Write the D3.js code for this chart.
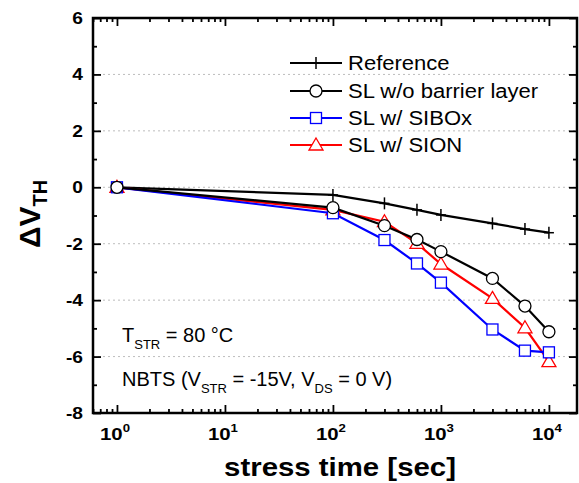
<!DOCTYPE html>
<html><head><meta charset="utf-8">
<script src="https://cdn.jsdelivr.net/npm/d3@7"></script>
<style>body{margin:0;background:#fff;} svg{display:block;font-family:Arial,"Liberation Sans",sans-serif;}</style>
</head><body>
<svg id="c" width="579" height="483"></svg>
<script>
const times = [1, 100, 300, 600, 1000, 3000, 6000, 10000];
const refVals = [0, -0.27, -0.57, -0.80, -0.98, -1.28, -1.48, -1.61];
const woVals = [0, -0.72, -1.36, -1.85, -2.28, -3.23, -4.21, -5.12];
const siboxVals = [0, -0.92, -1.87, -2.70, -3.38, -5.04, -5.79, -5.85];
const sionVals = [0, -0.80, -1.22, -1.99, -2.72, -3.94, -4.98, -6.18];
const seriesNames = ["Reference", "SL w/o barrier layer", "SL w/ SIBOx", "SL w/ SION"];
const seriesColors = ["#000000", "#000000", "#0000ff", "#ff0000"];
const seriesMarkers = ["plus", "circle", "square", "triangle"];
const yTicks = [-8, -6, -4, -2, 0, 2, 4, 6];
const xDecades = [0, 1, 2, 3, 4];

const svg = d3.select("#c");
const L = 93, R = 577, T = 18, B = 413;
const SX = 1.13; // horizontal stretch of the original figure's text
const x = d3.scaleLog().domain([0.6, 18200]).range([L, R]);
const y = d3.scaleLinear().domain([-8, 6]).range([B, T]);

// grid
svg.append("g").selectAll("line").data(yTicks.filter(v => v > -8 && v < 6)).join("line")
  .attr("x1", L).attr("x2", R).attr("y1", d => y(d)).attr("y2", d => y(d))
  .attr("stroke", "#bdbdbd").attr("stroke-width", 1).attr("stroke-dasharray", "2,3");

// axes with inward ticks
const yMinor = d3.range(-7, 6, 2);
const xMinor = [];
for (let e = -1; e <= 4; e++) for (let k = 2; k <= 9; k++) { const v = k * Math.pow(10, e); if (v > 0.6 && v < 18200) xMinor.push(v); }
const xMajor = xDecades.map(e => Math.pow(10, e));

function axisGroup(gen, transform) {
  const g = svg.append("g").attr("transform", transform).call(gen);
  g.select(".domain").remove();
  g.selectAll(".tick line").attr("stroke", "#000").attr("stroke-width", 1.8);
  g.selectAll(".tick text").remove();
  return g;
}
axisGroup(d3.axisBottom(x).tickValues(xMajor).tickSize(-8), `translate(0,${B})`);
axisGroup(d3.axisBottom(x).tickValues(xMinor).tickSize(-4), `translate(0,${B})`);
axisGroup(d3.axisTop(x).tickValues(xMajor).tickSize(-8), `translate(0,${T})`);
axisGroup(d3.axisTop(x).tickValues(xMinor).tickSize(-4), `translate(0,${T})`);
axisGroup(d3.axisLeft(y).tickValues(yTicks).tickSize(-8), `translate(${L},0)`);
axisGroup(d3.axisLeft(y).tickValues(yMinor).tickSize(-4), `translate(${L},0)`);
axisGroup(d3.axisRight(y).tickValues(yTicks).tickSize(-8), `translate(${R},0)`);
axisGroup(d3.axisRight(y).tickValues(yMinor).tickSize(-4), `translate(${R},0)`);

svg.append("rect").attr("x", L).attr("y", T).attr("width", R - L).attr("height", B - T)
  .attr("fill", "none").attr("stroke", "#000").attr("stroke-width", 2.5);

// y tick labels
svg.append("g").selectAll("text").data(yTicks).join("text")
  .attr("transform", d => `translate(${L - 10},${y(d) + 6}) scale(${SX},1)`)
  .attr("text-anchor", "end")
  .attr("font-size", 17).attr("font-weight", "bold").text(d => d);

// x tick labels
const xl = svg.append("g").selectAll("text").data(xDecades).join("text")
  .attr("transform", d => `translate(${x(Math.pow(10, d)) - 2},${B + 27}) scale(1.2,1)`)
  .attr("text-anchor", "middle")
  .attr("font-size", 17).attr("font-weight", "bold");
xl.append("tspan").text("10");
xl.append("tspan").attr("dy", -8).attr("font-size", 11).text(d => d);

// axis titles
svg.append("text").attr("transform", `translate(340,476) scale(${SX},1)`).attr("text-anchor", "middle")
  .attr("font-size", 26).attr("font-weight", "bold").text("stress time [sec]");
const yt = svg.append("text").attr("transform", "translate(40,248) rotate(-90)").attr("text-anchor", "start")
  .attr("font-size", 30).attr("font-weight", "bold");
yt.append("tspan").text("ΔV");
yt.append("tspan").attr("dy", 7).attr("font-size", 20).text("TH");

// series
const allVals = [refVals, woVals, siboxVals, sionVals];
const order = [0, 3, 2, 1];
const line = d3.line().x((d, i) => x(times[i])).y(d => y(d));

function drawMarker(g, type, color, cx, cy) {
  if (type === "plus") {
    g.append("line").attr("x1", cx).attr("x2", cx).attr("y1", cy - 6).attr("y2", cy + 6).attr("stroke", color).attr("stroke-width", 1.5);
    g.append("line").attr("x1", cx - 5).attr("x2", cx + 5).attr("y1", cy).attr("y2", cy).attr("stroke", color).attr("stroke-width", 1.5);
  } else if (type === "circle") {
    g.append("circle").attr("cx", cx).attr("cy", cy).attr("r", 6).attr("fill", "#fff").attr("stroke", color).attr("stroke-width", 1.3);
  } else if (type === "square") {
    g.append("rect").attr("x", cx - 5.5).attr("y", cy - 5.5).attr("width", 11).attr("height", 11).attr("fill", "#fff").attr("stroke", color).attr("stroke-width", 1.3);
  } else if (type === "triangle") {
    g.append("path").attr("d", `M${cx},${cy - 7}L${cx + 7},${cy + 5}L${cx - 7},${cy + 5}Z`).attr("fill", "#fff").attr("stroke", color).attr("stroke-width", 1.3);
  }
}

order.forEach(si => {
  const g = svg.append("g");
  g.append("path").datum(allVals[si]).attr("d", line).attr("fill", "none")
    .attr("stroke", seriesColors[si]).attr("stroke-width", 2.2);
  allVals[si].forEach((v, i) => drawMarker(g, seriesMarkers[si], seriesColors[si], x(times[i]), y(v)));
});

// legend
const legY = [63, 91, 118, 145];
seriesNames.forEach((name, i) => {
  const g = svg.append("g");
  g.append("line").attr("x1", 290).attr("x2", 342).attr("y1", legY[i]).attr("y2", legY[i])
    .attr("stroke", seriesColors[i]).attr("stroke-width", 2.2);
  drawMarker(g, seriesMarkers[i], seriesColors[i], 316, legY[i]);
  g.append("text").attr("transform", `translate(348,${legY[i] + 7}) scale(${SX},1)`)
    .attr("font-size", 19.5).text(name);
});

// annotations
const a1 = svg.append("text").attr("x", 122).attr("y", 342).attr("font-size", 20);
a1.append("tspan").text("T");
a1.append("tspan").attr("dy", 7).attr("font-size", 13).text("STR");
a1.append("tspan").attr("dy", -7).text(" = 80 °C");
const a2 = svg.append("text").attr("x", 122).attr("y", 386).attr("font-size", 20);
a2.append("tspan").text("NBTS (V");
a2.append("tspan").attr("dy", 7).attr("font-size", 13).text("STR");
a2.append("tspan").attr("dy", -7).text(" = -15V, V");
a2.append("tspan").attr("dy", 7).attr("font-size", 13).text("DS");
a2.append("tspan").attr("dy", -7).text(" = 0 V)");
</script>
</body></html>
